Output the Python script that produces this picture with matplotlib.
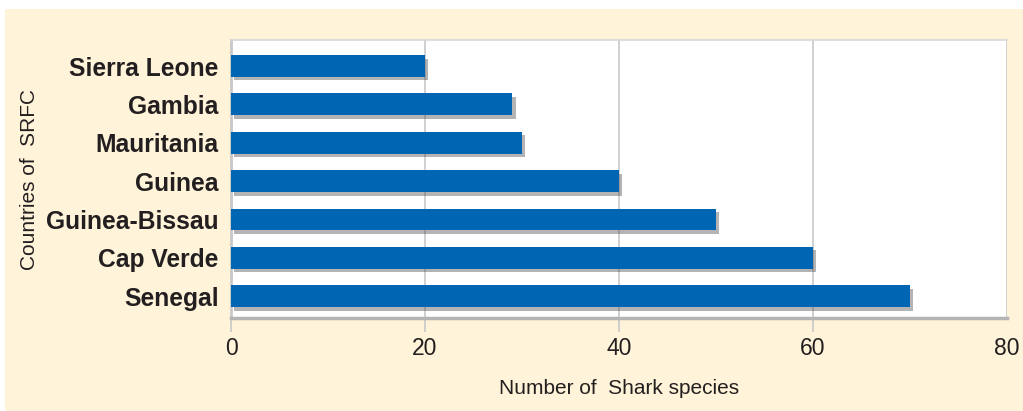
import matplotlib.pyplot as plt
import matplotlib.patheffects as pe
from matplotlib.patches import Rectangle

countries = ['Senegal', 'Cap Verde', 'Guinea-Bissau', 'Guinea', 'Mauritania', 'Gambia', 'Sierra Leone']
species = [70, 60, 50, 40, 30, 29, 20]
x_ticks = [0, 20, 40, 60, 80]

font = 'Liberation Sans'
ink = '#231f20'

W, H = 1023, 411
fig = plt.figure(figsize=(W / 100, H / 100), dpi=100)
fig.patch.set_facecolor('white')
# cream panel behind everything (thin white margin top/left)
fig.patches.append(Rectangle((5 / W, 0), 1 - 5 / W, 1 - 9 / H, transform=fig.transFigure,
                             facecolor='#fff4d9', edgecolor='none', zorder=-10))

ax = fig.add_axes([231 / W, 1 - 318 / H, (1007 - 231) / W, (318 - 40) / H])
ax.set_facecolor('white')

bars = ax.barh(range(len(countries)), species, height=0.57, color='#0066b3', zorder=3)
for b in bars:
    b.set_path_effects([pe.SimplePatchShadow(offset=(2.5, -2.5), shadow_rgbFace='#444444', alpha=0.4),
                        pe.Normal()])

ax.set_xlim(0, 80)
ax.set_ylim(-0.57, 6.68)
ax.set_xticks(x_ticks)
ax.set_yticks(range(len(countries)))
ax.set_yticklabels(countries, fontfamily=font, fontweight='bold', fontsize=17.7, color=ink)
ax.set_xticklabels([str(t) for t in x_ticks], fontfamily=font, fontsize=16.5, color=ink)

ax.grid(axis='x', color='#c8c8c8', linewidth=1.2, zorder=0)
ax.tick_params(axis='y', length=0, pad=9)
ax.tick_params(axis='x', length=10, width=1.2, color='#c8c8c8', pad=4)
ax.xaxis.get_major_ticks()[-1].tick1line.set_visible(False)

ax.spines['right'].set_visible(False)
ax.spines['top'].set_color('#d8d8d8')
ax.spines['top'].set_linewidth(1.2)
ax.spines['left'].set_color('#c8c8c8')
ax.spines['left'].set_linewidth(2)
ax.spines['bottom'].set_color('#b4b4b4')
ax.spines['bottom'].set_linewidth(2.5)

ax.set_xlabel('Number of  Shark species', fontfamily=font, fontsize=15, color=ink, labelpad=13)
fig.text(30 / W, 1 - 180 / H, 'Countries of  SRFC', rotation=90, ha='center', va='center',
         fontfamily=font, fontsize=15, color=ink)

fig.savefig('out.png', dpi=100)
